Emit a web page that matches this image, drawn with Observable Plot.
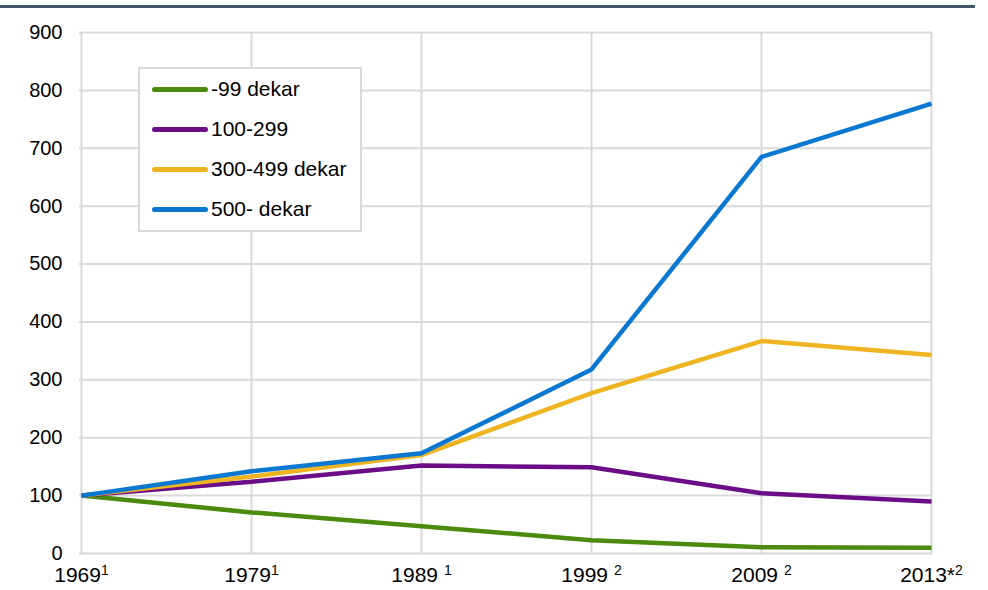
<!DOCTYPE html>
<html><head><meta charset="utf-8">
<script src="https://cdn.jsdelivr.net/npm/d3@7"></script>
<script src="https://cdn.jsdelivr.net/npm/@observablehq/plot@0.6"></script>
<style>
body{margin:0;background:#fff;font-family:"Liberation Sans",Arial,sans-serif;}
#wrap{position:relative;width:988px;height:590px;overflow:hidden;}
#topline{position:absolute;left:0;top:5px;width:975px;height:3px;background:#44546a;}
#legend{position:absolute;left:138px;top:67px;width:224px;height:165px;border:2px solid #d9d9d9;box-sizing:border-box;background:#fff;}
.row{position:absolute;left:12px;height:24px;display:flex;align-items:center;font-size:21px;color:#000;}
.sw{width:56px;height:5px;border-radius:3px;margin-right:3px;}
</style></head><body>
<div id="wrap"><div id="chart"></div><div id="topline"></div><div id="legend"></div></div>
<script>
const years = ["1969\u00b9", "1979\u00b9", "1989 \u00b9", "1999 \u00b2", "2009 \u00b2", "2013*\u00b2"];
const seriesNames = ["-99 dekar", "100-299", "300-499 dekar", "500- dekar"];
const seriesColors = ["#4a8a0c", "#6a0d86", "#efb421", "#0a78d0"];
const small = [100, 71, 47, 23, 11, 10];
const mid = [100, 124, 152, 149, 104, 90];
const large = [100, 133, 170, 277, 367, 343];
const xlarge = [100, 142, 173, 318, 685, 777];
const yTicks = [0, 100, 200, 300, 400, 500, 600, 700, 800, 900];

const seriesValues = [small, mid, large, xlarge];
const data = [];
seriesNames.forEach((name, i) => {
  seriesValues[i].forEach((v, j) => data.push({series: name, year: years[j], value: v}));
});

const chart = Plot.plot({
  width: 988,
  height: 590,
  marginLeft: 79,
  marginRight: 56,
  marginTop: 32,
  marginBottom: 37,
  style: {fontSize: "20px", fontFamily: "'Liberation Sans', Arial, sans-serif", color: "#000", background: "#fff"},
  x: {type: "point", domain: years, padding: 0},
  y: {domain: [0, 900]},
  color: {domain: seriesNames, range: seriesColors},
  marks: [
    Plot.gridY(yTicks, {stroke: "#d9d9d9", strokeOpacity: 1, strokeWidth: 2}),
    Plot.gridX(years, {stroke: "#d9d9d9", strokeOpacity: 1, strokeWidth: 2}),
    Plot.axisY(yTicks, {tickSize: 0, tickPadding: 17, label: null}),
    Plot.axisX(years, {tickSize: 0, tickPadding: 14, fontSize: 21, label: null}),
    Plot.lineY(data, {x: "year", y: "value", z: "series", stroke: "series", strokeWidth: 4.5, strokeLinejoin: "miter", strokeLinecap: "butt"})
  ]
});
document.getElementById("chart").appendChild(chart);

// render superscript markers as raised smaller text
const NS = "http://www.w3.org/2000/svg";
chart.querySelectorAll("text").forEach((t) => {
  const s = t.textContent;
  const m = s.match(/^(.*?)([\u00b9\u00b2])$/);
  if (!m) return;
  const sup = m[2] === "\u00b9" ? "1" : "2";
  while (t.firstChild) t.removeChild(t.firstChild);
  const a = document.createElementNS(NS, "tspan");
  a.textContent = m[1];
  const b = document.createElementNS(NS, "tspan");
  b.textContent = sup;
  b.setAttribute("font-size", "14");
  b.setAttribute("dy", "-7");
  t.appendChild(a);
  t.appendChild(b);
});

const legend = document.getElementById("legend");
seriesNames.forEach((name, i) => {
  const row = document.createElement("div");
  row.className = "row";
  row.style.top = (8 + i * 40) + "px";
  const sw = document.createElement("span");
  sw.className = "sw";
  sw.style.background = seriesColors[i];
  const tx = document.createElement("span");
  tx.textContent = name;
  row.appendChild(sw);
  row.appendChild(tx);
  legend.appendChild(row);
});
</script>
</body></html>
